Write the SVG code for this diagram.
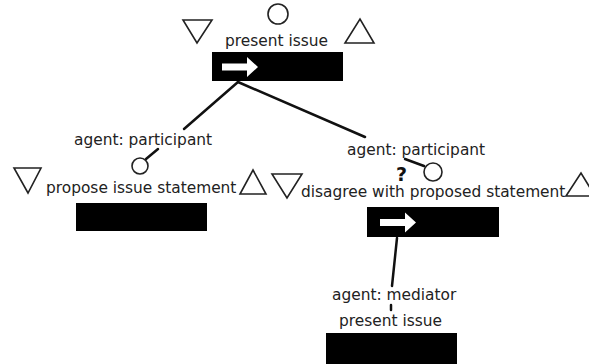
<svg xmlns="http://www.w3.org/2000/svg" width="589" height="364" viewBox="0 0 589 364">
<style>
.t{font-family:"DejaVu Sans",sans-serif;font-size:15.4px;fill:#222}
.q{font-family:"DejaVu Sans",sans-serif;font-size:19px;font-weight:bold;fill:#111}
.sh{fill:none;stroke:#222;stroke-width:1.6}
.box{fill:#000}
.arr{fill:#fff}
.c{stroke:#111;stroke-width:2.5;fill:none;stroke-linecap:round}
</style>
<defs>
<path id="ar" d="M0,-3.5 H25 V-10 L36,0 L25,10 V3.5 H0 Z"/>
</defs>
<rect width="589" height="364" fill="#fff"/>
<g id="connectors">
<line class="c" x1="238" y1="82" x2="184" y2="129"/>
<line class="c" x1="238" y1="82" x2="365" y2="137"/>
<line class="c" x1="158" y1="149" x2="146" y2="159"/>
<line class="c" x1="405" y1="159" x2="424" y2="166"/>
<line class="c" x1="397" y1="238" x2="392" y2="286"/>
<line class="c" x1="391" y1="305" x2="391" y2="310" stroke-linecap="butt"/>
</g>
<g id="node-present-issue">
<circle class="sh" cx="278" cy="14" r="10"/>
<polygon class="sh" points="183,20 212,20 197,43"/>
<polygon class="sh" points="345,43 374,43 360,19"/>
<text class="t" x="225" y="46">present issue</text>
<rect class="box" x="212" y="52" width="131" height="29"/>
<use href="#ar" class="arr" transform="translate(222,67)"/>
</g>
<g id="node-propose-issue-statement">
<text class="t" x="74" y="145">agent: participant</text>
<circle class="sh" cx="140" cy="166" r="8"/>
<polygon class="sh" points="14,168 41,168 28,193"/>
<polygon class="sh" points="240,194 266,194 253,170"/>
<text class="t" x="46" y="193">propose issue statement</text>
<rect class="box" x="76" y="203" width="131" height="28"/>
</g>
<g id="node-disagree">
<text class="t" x="347" y="155">agent: participant</text>
<text class="q" x="396" y="181">?</text>
<circle class="sh" cx="433" cy="172" r="9"/>
<polygon class="sh" points="272,174 302,174 287,198"/>
<polygon class="sh" points="566,196 595,196 581,173"/>
<text class="t" x="301" y="197">disagree with proposed statement</text>
<rect class="box" x="367" y="207" width="132" height="30"/>
<use href="#ar" class="arr" transform="translate(380,222.5)"/>
</g>
<g id="node-present-issue-2">
<text class="t" x="332" y="300">agent: mediator</text>
<text class="t" x="339" y="326">present issue</text>
<rect class="box" x="326" y="333" width="131" height="31"/>
</g>
</svg>
